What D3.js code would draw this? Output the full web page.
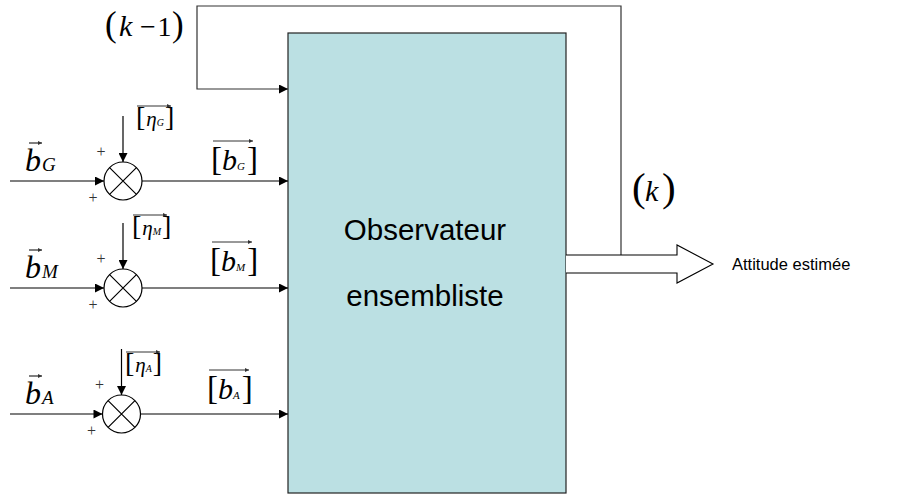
<!DOCTYPE html>
<html><head><meta charset="utf-8">
<script src="https://cdn.jsdelivr.net/npm/d3@7"></script>
<style>body{margin:0;background:#fff}svg{display:block}</style>
</head><body><svg id="c" width="922" height="500"></svg>
<script>
// ---- content ----
const channels = ["G", "M", "A"];
const inputSymbol = "b";
const noiseSymbol = "η";
const blockLines = ["Observateur", "ensembliste"];
const outputLabel = "Attitude estimée";
const feedbackIn = ["k", "−", "1"];
const feedbackOut = ["k"];

// ---- layout scales ----
const rowY = d3.scaleOrdinal().domain(channels).range([181, 288, 414]);
const sumX = d3.scaleOrdinal().domain(channels).range([123, 123, 121.5]);
const etaX = d3.scaleOrdinal().domain(channels).range([136, 132, 125]);
const etaTop = d3.scaleOrdinal().domain(channels).range([106, 215, 352]);
const outTop = d3.scaleOrdinal().domain(channels).range([146, 247, 375]);
const outX = d3.scaleOrdinal().domain(channels).range([211, 210, 207]);

const box = {x0: 288, y0: 33, x1: 566, y1: 493};
const R = 19;
const SERIF = "'Liberation Serif','Times New Roman',serif";
const SANS = "'Liberation Sans',Arial,sans-serif";

const svg = d3.select("#c");
const defs = svg.append("defs");
defs.append("marker").attr("id", "ah").attr("viewBox", "0 0 10 10")
  .attr("refX", 10).attr("refY", 5).attr("markerWidth", 10).attr("markerHeight", 9)
  .attr("markerUnits", "userSpaceOnUse").attr("orient", "auto")
  .append("path").attr("d", "M0,0L10,5L0,10Z").attr("fill", "#000");
defs.append("marker").attr("id", "sh").attr("viewBox", "0 0 10 10")
  .attr("refX", 10).attr("refY", 5).attr("markerWidth", 5).attr("markerHeight", 4)
  .attr("markerUnits", "userSpaceOnUse").attr("orient", "auto")
  .append("path").attr("d", "M0,0L10,5L0,10Z").attr("fill", "#333");

// main block
svg.append("rect").attr("x", box.x0).attr("y", box.y0)
  .attr("width", box.x1 - box.x0).attr("height", box.y1 - box.y0)
  .attr("fill", "#BBE0E3").attr("stroke", "#222").attr("stroke-width", 1.2);
svg.selectAll("text.blk").data(blockLines).join("text").attr("class", "blk")
  .attr("x", (box.x0 + box.x1) / 2 - 2).attr("y", (d, i) => 240 + i * 66)
  .attr("text-anchor", "middle").attr("font-family", SANS).attr("font-size", 29.5)
  .attr("fill", "#000").text(d => d);

// feedback loop
svg.append("path").attr("d", d3.line()([[621, 255], [621, 6], [197, 6], [197, 89], [box.x0, 89]]))
  .attr("fill", "none").attr("stroke", "#333").attr("stroke-width", 1.2).attr("marker-end", "url(#ah)");

// output hollow arrow
svg.append("path").attr("d", "M" + box.x1 + ",255L677,255L677,245L713,264L677,283L677,273L" + box.x1 + ",273")
  .attr("fill", "#fff").attr("stroke", "#000").attr("stroke-width", 1.1);
svg.append("text").attr("x", 732).attr("y", 270).attr("font-family", SANS).attr("font-size", 16.5)
  .attr("fill", "#000").text(outputLabel);

// feedback labels: big stretchy parentheses around italic index
function parenLabel(xl, xr, base, pSize, parts, partX) {
  const add = (x, txt, size, ital) => {
    const t = svg.append("text").attr("x", x).attr("y", base).attr("font-size", size)
      .attr("font-family", SERIF).attr("fill", "#000").text(txt);
    if (ital) t.attr("font-style", "italic");
  };
  add(xl, "(", pSize, false);
  parts.forEach((p, i) => add(partX[i], p, i === 0 ? 30 : 28, i === 0));
  add(xr, ")", pSize, false);
}
parenLabel(105, 172, 36, 35, feedbackIn, [119, 140, 157.5]);
parenLabel(632, 662, 201, 41, feedbackOut, [645]);

// channels
const g = svg.selectAll("g.ch").data(channels).join("g").attr("class", "ch");

// input line
g.append("line").attr("x1", 10).attr("x2", d => sumX(d) - R).attr("y1", d => rowY(d)).attr("y2", d => rowY(d))
  .attr("stroke", "#000").attr("stroke-width", 1.2).attr("marker-end", "url(#ah)");
// noise line
g.append("line").attr("x1", d => sumX(d)).attr("x2", d => sumX(d))
  .attr("y1", d => rowY(d) - 65).attr("y2", d => rowY(d) - R)
  .attr("stroke", "#000").attr("stroke-width", 1.2).attr("marker-end", "url(#ah)");
// output line
g.append("line").attr("x1", d => sumX(d) + R).attr("x2", box.x0).attr("y1", d => rowY(d)).attr("y2", d => rowY(d))
  .attr("stroke", "#000").attr("stroke-width", 1.2).attr("marker-end", "url(#ah)");
// summing junction
g.append("circle").attr("cx", d => sumX(d)).attr("cy", d => rowY(d)).attr("r", R)
  .attr("fill", "#fff").attr("stroke", "#000").attr("stroke-width", 1.2);
const k = R * Math.SQRT1_2;
g.append("path").attr("d", d => {
  const cx = sumX(d), cy = rowY(d);
  return `M${cx - k},${cy - k}L${cx + k},${cy + k}M${cx - k},${cy + k}L${cx + k},${cy - k}`;
}).attr("stroke", "#000").attr("stroke-width", 1.2);
// plus signs
g.append("text").attr("x", d => sumX(d) - 22).attr("y", d => rowY(d) - 24).attr("text-anchor", "middle")
  .attr("font-family", SERIF).attr("font-size", 16).attr("fill", "#333").text("+");
g.append("text").attr("x", d => sumX(d) - 30).attr("y", d => rowY(d) + 22).attr("text-anchor", "middle")
  .attr("font-family", SERIF).attr("font-size", 16).attr("fill", "#333").text("+");

// labels
g.each(function (d) {
  const s = d3.select(this), y = rowY(d);
  // input vector label
  const t = s.append("text").attr("x", 25).attr("y", y - 10).attr("font-family", SERIF).attr("fill", "#000");
  t.append("tspan").attr("font-size", 32).attr("font-style", "italic").text(inputSymbol);
  t.append("tspan").attr("font-size", 19).attr("font-style", "italic").attr("dx", 1).text(d);
  s.append("line").attr("x1", 29).attr("x2", 42).attr("y1", y - 38).attr("y2", y - 38)
    .attr("stroke", "#000").attr("stroke-width", 1).attr("marker-end", "url(#sh)");

  // noise bracket label
  const ex = etaX(d), et = etaTop(d);
  const tn = s.append("text").attr("x", ex).attr("y", et + 20).attr("font-family", SERIF).attr("fill", "#000");
  tn.append("tspan").attr("font-size", 28).text("[");
  tn.append("tspan").attr("font-size", 21).attr("font-style", "italic").attr("dx", 1).text(noiseSymbol);
  tn.append("tspan").attr("font-size", 10).attr("font-style", "italic").text(d);
  tn.append("tspan").attr("font-size", 28).attr("dx", 1).text("]");
  s.append("line").attr("x1", ex + 1).attr("x2", ex + 35).attr("y1", et).attr("y2", et)
    .attr("stroke", "#333").attr("stroke-width", 1).attr("marker-end", "url(#sh)");

  // measured vector label
  const ox = outX(d), ot = outTop(d);
  const to = s.append("text").attr("x", ox).attr("y", ot + 24).attr("font-family", SERIF).attr("fill", "#000");
  to.append("tspan").attr("font-size", 33).text("[");
  to.append("tspan").attr("font-size", 30).attr("font-style", "italic").text(inputSymbol);
  to.append("tspan").attr("font-size", 11).attr("font-style", "italic").text(d);
  to.append("tspan").attr("font-size", 33).attr("dx", 2).text("]");
  s.append("line").attr("x1", ox + 2).attr("x2", ox + 42).attr("y1", ot - 5).attr("y2", ot - 5)
    .attr("stroke", "#333").attr("stroke-width", 1).attr("marker-end", "url(#sh)");
});
</script>
</body></html>
